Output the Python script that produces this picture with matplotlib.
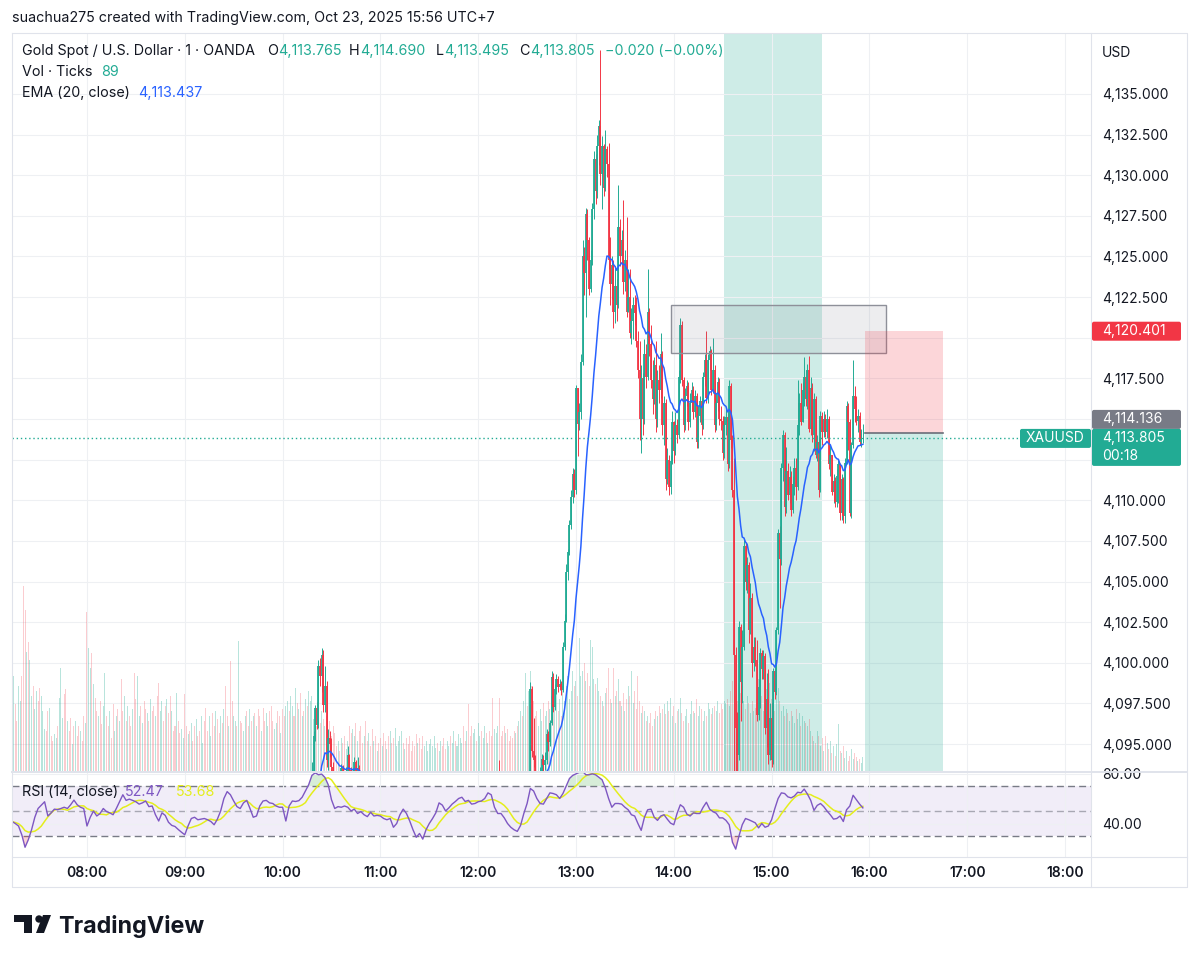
import numpy as np
import pandas as pd
import matplotlib
matplotlib.use("Agg")
import matplotlib.pyplot as plt
from matplotlib.patches import Rectangle, FancyBboxPatch, Polygon, Circle
from matplotlib.ticker import FuncFormatter

plt.rcParams['font.family'] = ['Inter', 'DejaVu Sans']

# ---------------- data: XAUUSD 1-minute bars, times = minutes after midnight (UTC+7)
candle_start = 610   # 10:10
closes = [
    4089.0, 4088.7, 4089.2, 4088.9, 4089.4, 4089.1, 4089.6, 4092.8, 4093.2, 4095.5,
    4097.2, 4096.2, 4099.8, 4099.2, 4100.5, 4097.4, 4098.6, 4094.0, 4095.4, 4095.0,
    4093.6, 4093.0, 4092.4, 4092.0, 4092.6, 4092.2, 4093.5, 4092.8, 4092.5, 4093.2,
    4094.3, 4093.4, 4092.9, 4093.2, 4093.9, 4093.3, 4093.5, 4092.6, 4092.2, 4091.8,
    4092.0, 4091.4, 4091.0, 4091.6, 4091.2, 4090.8, 4091.1, 4090.6, 4090.9, 4090.7,
    4090.4, 4090.6, 4090.1, 4089.9, 4090.2, 4089.8, 4089.9, 4089.2, 4088.6, 4089.0,
    4089.3, 4089.9, 4090.3, 4090.6, 4090.2, 4090.5, 4089.8, 4089.4, 4088.8, 4088.4,
    4088.0, 4087.6, 4087.2, 4087.5, 4087.0, 4086.6, 4086.4, 4087.0, 4087.6, 4088.0,
    4088.3, 4088.6, 4088.9, 4089.3, 4089.6, 4089.4, 4090.2, 4090.8, 4090.5, 4090.2,
    4090.0, 4090.3, 4090.6, 4090.4, 4090.9, 4091.2, 4091.0, 4091.5, 4091.8, 4092.1,
    4092.3, 4092.0, 4091.8, 4092.2, 4092.0, 4091.8, 4091.6, 4092.0, 4092.2, 4092.0,
    4092.3, 4092.5, 4092.4, 4092.8, 4093.0, 4092.9, 4093.1, 4093.0, 4092.8, 4092.6,
    4092.9, 4093.1, 4093.3, 4092.9, 4092.6, 4092.5, 4092.2, 4092.4, 4092.0, 4091.6,
    4091.5, 4091.2, 4090.9, 4091.0, 4090.8, 4091.4, 4091.6, 4091.2, 4091.8, 4092.2,
    4091.8, 4092.4, 4098.4, 4094.6, 4094.0, 4092.5, 4092.0, 4092.6, 4093.0, 4094.1,
    4093.7, 4094.0, 4095.6, 4095.1, 4096.3, 4099.1, 4097.3, 4098.4, 4099.0, 4098.5,
    4098.7, 4098.3, 4101.0, 4102.6, 4105.6, 4106.8, 4108.5, 4110.2, 4111.6, 4110.6,
    4116.9, 4114.7, 4115.4, 4118.5, 4125.0, 4124.0, 4127.6, 4126.0, 4123.0, 4124.8,
    4127.9, 4131.0, 4129.0, 4131.8, 4133.0, 4130.1, 4131.8, 4129.2, 4131.6, 4130.7,
    4124.8, 4123.3, 4124.5, 4121.6, 4123.2, 4122.0, 4126.8, 4125.0, 4126.0, 4123.4,
    4124.8, 4121.6, 4122.5, 4120.3, 4121.0, 4122.0, 4121.5, 4119.8, 4118.0, 4115.0,
    4117.5, 4115.0, 4119.0, 4117.6, 4121.6, 4119.6, 4117.4, 4116.2, 4118.3, 4115.0,
    4117.4, 4116.8, 4119.0, 4114.6, 4116.0, 4111.3, 4112.5, 4110.8, 4112.4, 4114.8,
    4113.0, 4114.6, 4114.0, 4117.6, 4120.8, 4117.4, 4114.6, 4116.4, 4117.0, 4114.8,
    4116.0, 4116.8, 4115.4, 4116.4, 4113.6, 4115.2, 4116.1, 4114.6, 4117.6, 4118.6,
    4116.3, 4118.6, 4119.2, 4116.8, 4118.0, 4114.6, 4116.0, 4117.3, 4115.0, 4114.9,
    4112.9, 4114.6, 4115.1, 4112.2, 4117.0, 4113.7, 4110.6, 4100.5, 4096.0, 4094.3,
    4102.2, 4098.8, 4101.0, 4107.2, 4105.0, 4106.0, 4102.0, 4104.0, 4100.0, 4101.0,
    4100.2, 4096.8, 4098.5, 4100.6, 4099.6, 4100.4, 4096.0, 4097.8, 4094.3, 4096.6,
    4094.0, 4099.5, 4098.2, 4102.0, 4108.0, 4106.4, 4112.0, 4114.0, 4109.6, 4111.8,
    4110.3, 4111.4, 4109.4, 4111.0, 4112.0, 4110.8, 4114.6, 4116.0, 4114.8, 4116.8,
    4117.6, 4116.2, 4118.0, 4114.4, 4116.9, 4114.0, 4116.2, 4112.8, 4113.6, 4110.6,
    4115.2, 4114.2, 4115.0, 4114.2, 4115.0, 4112.2, 4112.8, 4110.5, 4111.2, 4109.9,
    4111.5, 4112.2, 4109.2, 4111.3, 4109.0, 4112.3, 4115.8, 4114.8, 4109.2, 4113.4,
    4116.4, 4115.6, 4114.9, 4115.2, 4113.6, 4113.765, 4113.805,
]
highs = [
    4089.4, 4089.2, 4089.5, 4089.4, 4089.8, 4089.6, 4090.0, 4093.1, 4093.9, 4095.8,
    4097.4, 4097.6, 4100.2, 4100.3, 4100.9, 4100.8, 4099.8, 4098.9, 4095.9, 4095.8,
    4095.4, 4093.9, 4093.3, 4092.8, 4093.0, 4092.9, 4093.8, 4093.7, 4093.2, 4093.6,
    4094.9, 4094.4, 4093.6, 4093.5, 4094.2, 4094.0, 4094.2, 4093.7, 4092.8, 4092.4,
    4092.4, 4092.1, 4091.6, 4091.9, 4091.7, 4091.3, 4091.5, 4091.2, 4091.3, 4091.1,
    4090.8, 4091.0, 4090.7, 4090.3, 4090.6, 4090.3, 4090.3, 4090.0, 4089.3, 4089.4,
    4089.7, 4090.2, 4090.7, 4091.0, 4090.8, 4090.9, 4090.6, 4090.0, 4089.5, 4089.0,
    4088.6, 4088.2, 4087.8, 4087.9, 4087.7, 4087.2, 4086.9, 4087.4, 4088.0, 4088.4,
    4088.7, 4089.0, 4089.3, 4089.7, 4090.0, 4089.9, 4090.5, 4091.2, 4091.0, 4090.7,
    4090.5, 4090.7, 4091.0, 4090.9, 4091.3, 4091.6, 4091.5, 4091.9, 4092.2, 4092.5,
    4092.7, 4092.5, 4092.2, 4092.6, 4092.5, 4092.2, 4092.0, 4092.4, 4092.6, 4092.4,
    4092.7, 4092.9, 4092.8, 4093.1, 4093.3, 4093.2, 4093.3, 4093.3, 4093.2, 4092.9,
    4093.2, 4093.3, 4093.3, 4094.0, 4093.1, 4092.9, 4092.6, 4092.8, 4092.5, 4092.1,
    4091.9, 4091.7, 4091.4, 4091.4, 4091.2, 4091.8, 4092.0, 4091.7, 4092.2, 4092.6,
    4092.5, 4093.0, 4098.8, 4098.6, 4096.6, 4094.3, 4092.9, 4093.1, 4093.6, 4094.4,
    4094.3, 4094.5, 4095.9, 4095.8, 4096.5, 4099.5, 4099.4, 4098.7, 4099.3, 4099.2,
    4099.0, 4098.9, 4101.3, 4103.0, 4106.1, 4107.0, 4108.8, 4110.6, 4112.0, 4111.9,
    4117.1, 4116.8, 4116.0, 4119.0, 4126.0, 4125.6, 4128.0, 4127.9, 4126.2, 4125.4,
    4128.3, 4131.5, 4131.3, 4132.5, 4133.4, 4137.7, 4132.4, 4131.9, 4132.8, 4131.8,
    4132.0, 4126.2, 4125.0, 4124.8, 4124.4, 4123.6, 4129.4, 4127.3, 4126.6, 4128.5,
    4125.4, 4127.4, 4124.2, 4124.2, 4121.8, 4122.5, 4122.6, 4122.5, 4120.4, 4119.8,
    4118.3, 4117.8, 4119.9, 4119.6, 4124.2, 4121.8, 4120.8, 4118.6, 4118.8, 4119.8,
    4118.0, 4118.3, 4120.3, 4119.2, 4116.4, 4116.2, 4113.2, 4112.8, 4112.8, 4115.5,
    4114.9, 4115.4, 4115.0, 4118.0, 4121.2, 4121.0, 4117.6, 4116.9, 4117.4, 4117.3,
    4116.6, 4117.3, 4117.0, 4116.8, 4116.6, 4115.8, 4116.4, 4116.3, 4117.9, 4119.0,
    4120.4, 4119.0, 4119.5, 4119.3, 4120.0, 4118.3, 4116.6, 4117.6, 4117.5, 4115.8,
    4115.2, 4115.2, 4115.6, 4115.4, 4117.4, 4117.2, 4114.0, 4112.6, 4101.0, 4097.0,
    4102.6, 4102.4, 4102.0, 4107.7, 4107.4, 4106.5, 4106.2, 4104.9, 4104.3, 4101.6,
    4101.6, 4101.4, 4099.0, 4100.9, 4100.8, 4100.8, 4100.6, 4099.4, 4099.6, 4097.5,
    4097.5, 4099.7, 4099.8, 4102.2, 4108.2, 4108.4, 4112.3, 4114.3, 4114.2, 4113.3,
    4112.3, 4112.1, 4111.8, 4111.5, 4112.6, 4112.6, 4117.4, 4116.6, 4117.2, 4117.3,
    4118.8, 4118.0, 4118.4, 4118.9, 4117.6, 4117.2, 4116.6, 4116.4, 4114.0, 4113.9,
    4115.5, 4115.4, 4115.5, 4115.3, 4115.6, 4115.2, 4113.4, 4112.8, 4111.6, 4111.4,
    4111.9, 4112.5, 4112.3, 4111.6, 4111.4, 4112.6, 4116.1, 4116.0, 4115.0, 4113.6,
    4118.6, 4117.0, 4116.4, 4115.6, 4115.4, 4114.4, 4114.69,
]
lows = [
    4088.5, 4088.3, 4088.6, 4088.5, 4088.8, 4088.6, 4088.9, 4089.4, 4092.4, 4093.0,
    4095.2, 4095.9, 4096.0, 4098.6, 4098.2, 4097.0, 4097.0, 4093.6, 4093.4, 4094.2,
    4093.2, 4092.6, 4092.0, 4091.6, 4091.8, 4091.8, 4092.0, 4092.4, 4092.0, 4092.3,
    4093.0, 4093.1, 4092.6, 4092.7, 4093.0, 4093.1, 4093.2, 4092.4, 4091.8, 4091.4,
    4091.6, 4091.0, 4090.6, 4090.9, 4090.8, 4090.4, 4090.6, 4090.2, 4090.4, 4090.3,
    4090.0, 4090.1, 4089.7, 4089.5, 4089.8, 4089.4, 4089.5, 4088.9, 4088.2, 4088.5,
    4088.9, 4089.2, 4089.8, 4090.1, 4089.9, 4090.0, 4089.4, 4089.0, 4088.4, 4088.0,
    4087.6, 4087.2, 4086.8, 4087.0, 4086.6, 4086.2, 4086.0, 4086.5, 4087.0, 4087.5,
    4087.9, 4088.2, 4088.5, 4088.8, 4089.2, 4089.0, 4089.3, 4090.1, 4090.1, 4089.8,
    4089.6, 4089.9, 4090.2, 4090.0, 4090.3, 4090.8, 4090.6, 4090.9, 4091.4, 4091.7,
    4091.9, 4091.6, 4091.4, 4091.7, 4091.6, 4091.4, 4091.2, 4091.5, 4091.8, 4091.6,
    4091.9, 4092.1, 4092.0, 4092.3, 4092.6, 4092.6, 4092.8, 4092.7, 4092.5, 4092.2,
    4092.4, 4092.7, 4092.9, 4092.7, 4092.4, 4092.1, 4091.8, 4092.0, 4091.6, 4091.2,
    4091.1, 4090.8, 4090.5, 4090.6, 4090.4, 4090.7, 4091.2, 4090.8, 4091.1, 4091.7,
    4091.4, 4091.7, 4092.2, 4094.2, 4093.6, 4092.0, 4091.6, 4091.8, 4092.4, 4092.8,
    4093.2, 4093.4, 4093.8, 4094.6, 4094.9, 4096.2, 4097.0, 4097.1, 4098.1, 4098.2,
    4098.3, 4098.0, 4098.2, 4100.8, 4102.5, 4105.1, 4106.6, 4108.2, 4109.8, 4110.2,
    4110.4, 4112.7, 4114.3, 4115.0, 4118.3, 4122.6, 4121.3, 4124.8, 4122.6, 4122.8,
    4124.5, 4127.3, 4128.2, 4128.6, 4130.6, 4129.4, 4127.9, 4128.7, 4129.0, 4129.9,
    4124.2, 4122.0, 4122.4, 4120.6, 4120.9, 4121.0, 4121.8, 4124.4, 4124.3, 4122.7,
    4122.9, 4121.3, 4121.9, 4120.0, 4119.6, 4119.9, 4120.8, 4119.4, 4117.5, 4113.7,
    4112.9, 4114.0, 4114.7, 4116.9, 4117.4, 4118.9, 4116.9, 4115.3, 4115.9, 4114.2,
    4114.5, 4116.0, 4116.3, 4114.0, 4113.4, 4110.6, 4111.0, 4110.3, 4110.4, 4112.2,
    4112.3, 4112.8, 4113.5, 4113.8, 4117.2, 4117.0, 4114.2, 4114.3, 4115.8, 4114.3,
    4114.5, 4115.5, 4115.0, 4115.1, 4113.2, 4113.2, 4114.8, 4114.0, 4114.4, 4117.0,
    4116.0, 4116.0, 4118.0, 4116.5, 4116.6, 4114.2, 4114.3, 4115.5, 4114.6, 4114.3,
    4112.5, 4112.6, 4114.0, 4111.8, 4112.0, 4113.2, 4110.2, 4093.2, 4093.0, 4093.0,
    4094.0, 4096.4, 4097.5, 4100.8, 4104.5, 4104.3, 4101.2, 4101.8, 4099.1, 4099.5,
    4099.8, 4096.4, 4096.5, 4097.2, 4099.0, 4099.0, 4095.6, 4094.8, 4093.8, 4094.0,
    4093.6, 4093.8, 4097.8, 4098.0, 4101.8, 4103.4, 4106.0, 4111.2, 4109.0, 4109.2,
    4110.0, 4109.8, 4109.0, 4109.2, 4110.3, 4110.0, 4110.6, 4114.0, 4114.6, 4114.8,
    4115.8, 4115.8, 4115.6, 4114.2, 4114.0, 4113.6, 4113.0, 4112.6, 4112.4, 4110.2,
    4110.5, 4113.4, 4113.9, 4113.9, 4113.8, 4111.9, 4111.5, 4110.3, 4109.8, 4109.6,
    4109.6, 4109.8, 4108.8, 4108.8, 4108.6, 4108.6, 4112.2, 4113.1, 4109.0, 4108.9,
    4113.2, 4114.8, 4114.6, 4114.2, 4113.4, 4113.3, 4113.495,
]

volume_start = 434   # 07:14, tick volume per minute
volume = [
    320, 608, 429, 320, 544, 448, 608, 1178, 1024,
    755, 819, 704, 480, 544, 397, 512, 448, 531, 480,
    384, 269, 256, 384, 403, 224, 192, 237, 211, 288,
    467, 659, 339, 493, 525, 320, 256, 339, 173, 288,
    320, 224, 288, 256, 192, 352, 307, 1011, 781, 659,
    749, 557, 467, 384, 352, 448, 301, 416, 621, 352,
    288, 384, 211, 429, 256, 352, 397, 320, 589, 384,
    480, 320, 416, 352, 288, 397, 627, 461, 608, 352,
    416, 307, 448, 397, 371, 320, 461, 384, 416, 352,
    480, 563, 384, 448, 320, 416, 461, 371, 480, 384,
    256, 288, 499, 320, 243, 269, 211, 493, 288, 237,
    256, 307, 192, 288, 333, 224, 256, 352, 179, 320,
    403, 256, 352, 224, 371, 288, 384, 333, 243, 352,
    307, 397, 544, 352, 288, 698, 448, 352, 320, 288,
    826, 320, 307, 256, 352, 384, 288, 397, 320, 352,
    371, 288, 397, 352, 256, 403, 320, 371, 288, 384,
    416, 320, 269, 307, 384, 352, 243, 397, 352, 416,
    448, 384, 480, 416, 352, 531, 435, 397, 499, 352,
    384, 461, 416, 512, 448, 480, 333, 384, 288, 352,
    307, 384, 333, 288, 352, 256, 320, 224, 288, 243,
    160, 192, 128, 211, 179, 224, 141, 192, 288, 243,
    269, 224, 307, 192, 256, 288, 179, 224, 320, 192,
    243, 160, 269, 192, 224, 128, 179, 211, 160, 243,
    192, 141, 224, 256, 179, 211, 275, 160, 192, 224,
    256, 179, 141, 211, 173, 224, 128, 192, 160, 237,
    179, 211, 141, 224, 160, 192, 128, 173, 205, 160,
    224, 147, 179, 128, 192, 160, 211, 141, 192, 160,
    224, 179, 256, 192, 160, 237, 211, 179, 288, 192,
    256, 429, 224, 288, 243, 269, 192, 307, 224, 256,
    211, 288, 243, 179, 256, 224, 467, 269, 243, 288,
    467, 224, 256, 288, 243, 269, 192, 224, 211, 256,
    243, 288, 320, 384, 352, 448, 621, 416, 512, 640,
    544, 448, 352, 384, 288, 397, 320, 435, 352, 384,
    448, 397, 480, 371, 416, 512, 384, 461, 352, 544,
    448, 544, 608, 461, 512, 640, 544, 576, 480, 845,
    608, 640, 685, 576, 627, 544, 832, 787, 589, 557,
    595, 512, 480, 448, 416, 499, 531, 659, 461, 435,
    659, 480, 512, 589, 448, 416, 499, 384, 461, 544,
    480, 640, 435, 512, 397, 608, 448, 371, 416, 384,
    320, 352, 307, 371, 288, 333, 384, 352, 416, 371,
    397, 429, 365, 448, 384, 467, 352, 416, 307, 384,
    397, 467, 371, 320, 352, 397, 307, 365, 448, 384,
    371, 461, 352, 416, 397, 320, 384, 352, 435, 397,
    365, 403, 416, 384, 448, 371, 429, 397, 448, 435,
    461, 416, 512, 576, 544, 480, 448, 563, 499, 429,
    448, 397, 480, 435, 371, 448, 384, 403, 461, 589,
    416, 480, 384, 448, 525, 499, 563, 461, 416, 384,
    480, 531, 448, 384, 416, 352, 397, 371, 320, 384,
    352, 307, 397, 333, 371, 288, 352, 320, 307, 288,
    333, 256, 224, 192, 179, 256, 224, 160, 211, 128,
    224, 179, 141, 192, 115, 160, 96, 173, 301, 128,
    115, 160, 83, 128, 64, 96, 141, 77, 115, 90,
    64, 77, 51, 89,
]
# bar direction before the first candle above (u = up, d = down)
early_dirs = ("dudduudddu" "duuduudduu" "uddudduudu" "uudduddudu" "ddudduduud"
              "uddudduudd" "udduududdu" "duddudduud" "uddududdud" "duudduddud"
              "dudduuddud" "uddudduudd" "duudduddud" "uddudduudu" "dduuddudud"
              "uddudduudd" "duuddudduu" "duudud")

rsi_start = 434      # RSI(14) sampled every 2 minutes
rsi_step = 2
rsi = [
    41.6, 40.0, 38.0, 31.0, 21.0, 27.0, 35.0, 45.0, 52.0, 54.7,
    57.4, 46.0, 48.5, 51.5, 51.0, 52.0, 53.0, 52.0, 55.0, 58.7,
    55.0, 53.0, 52.0, 38.0, 45.0, 50.0, 46.0, 48.0, 52.0, 49.5,
    48.5, 47.0, 52.0, 57.4, 63.0, 58.5, 59.5, 58.5, 57.4, 55.5,
    56.5, 58.0, 53.5, 54.0, 47.0, 42.0, 48.5, 46.5, 41.0, 38.5,
    37.6, 35.2, 33.0, 31.0, 38.0, 44.0, 45.0, 43.0, 43.5, 44.0,
    43.0, 41.6, 39.0, 43.5, 50.0, 60.0, 65.5, 63.0, 58.0, 53.5,
    52.0, 56.5, 58.5, 52.0, 45.0, 46.0, 54.0, 58.0, 58.5, 56.5,
    56.0, 54.0, 53.0, 53.0, 42.0, 54.0, 58.0, 57.6, 58.3, 61.0,
    66.0, 71.0, 78.5, 80.5, 79.0, 79.5, 76.8, 71.0, 59.0, 52.0,
    53.5, 53.0, 54.0, 53.0, 50.0, 51.5, 48.0, 49.5, 47.0, 45.5,
    49.0, 46.0, 46.5, 46.0, 44.0, 43.0, 44.0, 37.0, 40.0, 47.0,
    51.5, 48.0, 42.0, 35.0, 29.0, 32.0, 27.5, 35.0, 40.0, 44.0,
    48.5, 56.5, 54.7, 50.0, 52.5, 55.5, 57.6, 60.0, 61.0, 57.6,
    58.5, 55.5, 56.0, 57.4, 58.0, 60.0, 64.5, 63.0, 53.0, 48.0,
    48.0, 44.5, 40.0, 37.0, 35.0, 33.7, 38.5, 48.0, 56.0, 68.0,
    66.0, 60.0, 56.0, 55.5, 60.0, 64.5, 64.0, 63.0, 60.0, 64.0,
    70.0, 76.0, 78.5, 79.7, 81.0, 82.0, 79.0, 79.0, 79.7, 79.0,
    77.0, 75.0, 68.5, 60.0, 53.0, 56.0, 56.0, 55.5, 53.0, 51.0,
    47.0, 46.0, 40.0, 34.5, 45.0, 51.0, 51.5, 45.0, 42.5, 46.0,
    47.0, 43.5, 40.3, 39.0, 48.0, 55.0, 53.0, 47.5, 46.0, 48.5,
    48.0, 48.0, 53.0, 57.0, 51.5, 49.5, 48.2, 44.5, 44.5, 42.5,
    39.0, 25.0, 19.5, 30.0, 39.0, 44.0, 43.0, 41.8, 40.5, 36.5,
    40.0, 37.0, 38.0, 43.0, 52.0, 60.0, 64.5, 64.0, 61.3, 60.5,
    62.0, 65.0, 64.5, 67.5, 63.5, 58.5, 50.5, 54.5, 56.0, 53.5,
    50.0, 47.0, 43.5, 44.0, 46.0, 41.6, 51.0, 54.0, 62.6, 59.0,
    55.5, 52.5,
]

hour_ticks = [480, 540, 600, 660, 720, 780, 840, 900, 960, 1020, 1080]
hour_labels = ['08:00', '09:00', '10:00', '11:00', '12:00', '13:00',
               '14:00', '15:00', '16:00', '17:00', '18:00']
price_ticks = [4095.0, 4097.5, 4100.0, 4102.5, 4105.0, 4107.5, 4110.0, 4112.5,
               4115.0, 4117.5, 4120.0, 4122.5, 4125.0, 4127.5, 4130.0, 4132.5, 4135.0]

# drawings on the chart
zone_t = (871, 931)                     # shaded 14:31 - 15:31
box_t, box_p = (838, 970), (4119.06, 4122.0)
pos_t = (957, 1005)                     # short position tool
pos_entry, pos_stop, pos_target = 4114.136, 4120.401, 4090.0
last_price = 4113.805

assert len(closes) == len(highs) == len(lows)
assert len(volume) == len(early_dirs) + len(closes)

# ---------------- derived series
closes = np.array(closes)
opens = np.r_[closes[0], closes[:-1]]
highs = np.maximum(np.array(highs), np.maximum(opens, closes))
lows = np.minimum(np.array(lows), np.minimum(opens, closes))
ct = candle_start + np.arange(len(closes))
ema = pd.Series(closes).ewm(span=20, adjust=False).mean().values
up = closes >= opens

vt = volume_start + np.arange(len(volume))
vol_up = np.r_[[c == 'u' for c in early_dirs], up]

rt = rsi_start + rsi_step * np.arange(len(rsi))
rsi = np.array(rsi)
rsi_ma = pd.Series(rsi).rolling(7, min_periods=1).mean().values

# ---------------- layout (pixel geometry of the TradingView screenshot)
W, H = 1200, 961
PANE_L, PANE_R, FRAME_R = 12, 1091, 1187
MAIN_T, MAIN_B = 33, 771
RSI_T, RSI_B = 773, 857
AXIS_B = 887
T_LEFT, T_RIGHT = 434.0, 1095.95
P_BOT, P_TOP = 4093.34, 4138.75
R_BOT, R_TOP = 13.2, 80.4
VOL_TOP = 4700.0

UP, DOWN = '#22AB94', '#F23645'
TXT = '#131722'
GRID = '#EEF0F3'
PURPLE = '#7E57C2'
YELLOW = '#E4EE1C'


def rect(l, t, r, b):
    return [l / W, 1 - b / H, (r - l) / W, (b - t) / H]


def py(p):
    return MAIN_T + (P_TOP - p) / (P_TOP - P_BOT) * (MAIN_B - MAIN_T)


# price-scale labels drawn as boxes: (top px, height px)
red_box = (py(pos_stop) - 9.5, 19)
green_box = (py(last_price) - 9.5, 37)
gray_box = (green_box[0] - 19, 19)
covered = [red_box, gray_box, green_box]


def price_fmt(v, _):
    yy = py(v)
    if any(t - 5 <= yy <= t + h + 5 for t, h in covered):
        return ""
    return f"{v:,.3f}"


fig = plt.figure(figsize=(12, 9.61), dpi=100)
fig.patch.set_facecolor('white')

ax = fig.add_axes(rect(PANE_L, MAIN_T, PANE_R, MAIN_B))
ax_rsi = fig.add_axes(rect(PANE_L, RSI_T, PANE_R, RSI_B))
ax_ov = fig.add_axes([0, 0, 1, 1])
ax_ov.set_xlim(0, W)
ax_ov.set_ylim(H, 0)
ax_ov.axis('off')
ax_ov.patch.set_alpha(0)

# ---- main pane
ax.set_xlim(T_LEFT, T_RIGHT)
ax.set_ylim(P_BOT, P_TOP)
for s in ax.spines.values():
    s.set_visible(False)
ax.set_xticks(hour_ticks)
ax.set_yticks(price_ticks)
ax.grid(True, color=GRID, lw=0.8, zorder=0)
ax.set_axisbelow(True)
ax.yaxis.tick_right()
ax.tick_params(axis='x', length=0, labelbottom=False)
ax.tick_params(axis='y', length=0, pad=7.9, labelsize=10, labelcolor=TXT)
ax.yaxis.set_major_formatter(FuncFormatter(price_fmt))

ax.axvspan(*zone_t, color=UP, alpha=0.22, lw=0, zorder=0.5)

# volume overlay (bottom quarter of the pane)
vcol = [(0.133, 0.671, 0.58, 0.32) if u else (0.949, 0.212, 0.271, 0.25) for u in vol_up]
ax.bar(vt, np.array(volume) / VOL_TOP, width=0.62, color=vcol, lw=0,
       transform=ax.get_xaxis_transform(), zorder=1)

# candles
ccol = np.where(up, UP, DOWN)
ax.vlines(ct, lows, highs, colors=ccol, lw=0.7, zorder=2)
body_lo = np.minimum(opens, closes)
body_hi = np.maximum(np.maximum(opens, closes), body_lo + 0.06)
ax.vlines(ct, body_lo, body_hi, colors=ccol, lw=1.3, zorder=2.1)

ax.plot(ct, ema, color='#2962FF', lw=1.1, zorder=3)

# rectangle drawing
ax.add_patch(Rectangle((box_t[0], box_p[0]), box_t[1] - box_t[0], box_p[1] - box_p[0],
                       facecolor=(0.47, 0.48, 0.53, 0.13), edgecolor='#8E9099', lw=1.0, zorder=4))
# short position tool
ax.add_patch(Rectangle((pos_t[0], pos_entry), pos_t[1] - pos_t[0], pos_stop - pos_entry,
                       facecolor=DOWN, alpha=0.2, lw=0, zorder=4))
ax.add_patch(Rectangle((pos_t[0], pos_target), pos_t[1] - pos_t[0], pos_entry - pos_target,
                       facecolor=UP, alpha=0.22, lw=0, zorder=4))
ax.plot(pos_t, [pos_entry, pos_entry], color='#6A6D78', lw=1.2, zorder=4.2)

# current price line
ax.axhline(last_price, xmin=0, xmax=(1020 - PANE_L) / (PANE_R - PANE_L), color=UP,
           lw=1.0, ls=(0, (1, 2)), zorder=4.5)

# ---- RSI pane
ax_rsi.set_xlim(T_LEFT, T_RIGHT)
ax_rsi.set_ylim(R_BOT, R_TOP)
for s in ax_rsi.spines.values():
    s.set_visible(False)
ax_rsi.set_xticks(hour_ticks)
ax_rsi.set_xticklabels(hour_labels)
ax_rsi.set_yticks([40, 80])
ax_rsi.yaxis.set_major_formatter(FuncFormatter(lambda v, _: f"{v:.2f}"))
ax_rsi.yaxis.tick_right()
ax_rsi.grid(True, color=GRID, lw=0.8, zorder=0)
ax_rsi.tick_params(axis='y', length=0, pad=7.9, labelsize=10, labelcolor=TXT)
ax_rsi.tick_params(axis='x', length=0, pad=6.5, labelsize=10, labelcolor=TXT)
for lab in ax_rsi.get_xticklabels():
    lab.set_fontweight('semibold')

ax_rsi.axhspan(30, 70, color=PURPLE, alpha=0.1, lw=0, zorder=0.5)
ax_rsi.axhline(70, color='#787B86', lw=1.0, ls=(0, (5, 3)), zorder=1)
ax_rsi.axhline(50, color='#787B86', lw=1.0, ls=(0, (5, 3)), alpha=0.6, zorder=1)
ax_rsi.axhline(30, color='#787B86', lw=1.0, ls=(0, (5, 3)), zorder=1)
ax_rsi.fill_between(rt, 70, rsi, where=rsi > 70, interpolate=True,
                    color=(0.3, 0.69, 0.31, 0.22), lw=0, zorder=1.5)
ax_rsi.fill_between(rt, rsi, 30, where=rsi < 30, interpolate=True,
                    color=(0.95, 0.21, 0.27, 0.22), lw=0, zorder=1.5)
ax_rsi.plot(rt, rsi_ma, color=YELLOW, lw=1.1, zorder=2)
ax_rsi.plot(rt, rsi, color=PURPLE, lw=1.0, zorder=3)

# ---- frame and separators
fc = '#E0E3EB'
ax_ov.plot([PANE_L, FRAME_R, FRAME_R, PANE_L, PANE_L], [MAIN_T, MAIN_T, AXIS_B, AXIS_B, MAIN_T],
           color=fc, lw=0.8)
ax_ov.plot([PANE_R, PANE_R], [MAIN_T, AXIS_B], color=fc, lw=0.8)
ax_ov.plot([PANE_L, FRAME_R], [772, 772], color=fc, lw=1.4)
ax_ov.plot([PANE_L, FRAME_R], [RSI_B, RSI_B], color=fc, lw=0.8)

# ---- texts (legend rows placed where the reference has them)
def text_at(parts, y, size=10.3):
    for x, s, c in parts:
        ax_ov.text(x, y, s, color=c, fontsize=size, va='center', ha='left')


ax_ov.text(12, 18, "suachua275 created with TradingView.com, Oct 23, 2025 15:56 UTC+7",
           fontsize=10.3, color=TXT, va='center', ha='left')
text_at([(22, "Gold Spot / U.S. Dollar · 1 · OANDA", TXT),
         (267, "O", TXT), (278, "4,113.765", UP),
         (349, "H", TXT), (360, "4,114.690", UP),
         (436, "L", TXT), (444, "4,113.495", UP),
         (519, "C", TXT), (530, "4,113.805", UP),
         (605, "\u22120.020 (\u22120.00%)", UP)], 51)
text_at([(22, "Vol · Ticks", TXT), (101, f"{volume[-1]}", UP)], 72)
text_at([(22, "EMA (20, close)", TXT), (138, "4,113.437", '#2962FF')], 93)
text_at([(22, "RSI (14, close)", TXT), (125, "52.47", PURPLE), (176, "53.68", YELLOW)], 792)
ax_ov.text(1102, 53, "USD", fontsize=10, color=TXT, va='center', ha='left')


def price_label(box, lines, color, x0=1092, x1=1181):
    top, h = box
    ax_ov.add_patch(FancyBboxPatch((x0, top), x1 - x0, h, boxstyle="round,pad=0,rounding_size=2",
                                   facecolor=color, edgecolor='none', zorder=5))
    for k, s in enumerate(lines):
        ax_ov.text(1102, top + 9.5 + 18 * k, s, color='white', fontsize=10,
                   va='center', ha='left', zorder=6)


price_label(red_box, [f"{pos_stop:,.3f}"], DOWN)
price_label(gray_box, [f"{pos_entry:,.3f}"], '#787B86')
price_label(green_box, [f"{last_price:,.3f}", "00:18"], UP)
ax_ov.add_patch(FancyBboxPatch((1020, green_box[0]), PANE_R - 1020, 19,
                               boxstyle="round,pad=0,rounding_size=2",
                               facecolor=UP, edgecolor='none', zorder=5))
ax_ov.text(1055, green_box[0] + 9.5, "XAUUSD", color='white', fontsize=10,
           va='center', ha='center', zorder=6)

# ---- TradingView logo
k = '#131722'
ax_ov.add_patch(Rectangle((14, 915), 18, 7, color=k, lw=0))
ax_ov.add_patch(Rectangle((24, 915), 8, 18, color=k, lw=0))
ax_ov.add_patch(Circle((39, 919), 3.7, color=k, lw=0))
ax_ov.add_patch(Polygon([(43, 915), (51, 915), (44, 933), (36, 933)], closed=True, color=k, lw=0))
ax_ov.text(58, 933, "TradingView", fontsize=16.8, fontweight='bold', color=k,
           va='baseline', ha='left')

fig.savefig("out.png", dpi=100)
